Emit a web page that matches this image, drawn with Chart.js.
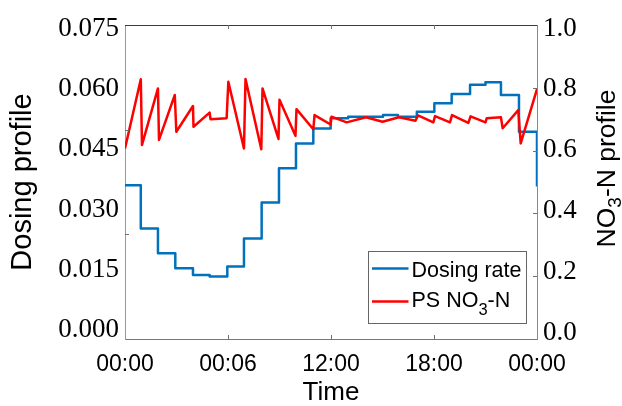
<!DOCTYPE html>
<html>
<head>
<meta charset="utf-8">
<script src="https://cdn.jsdelivr.net/npm/chart.js@4.4.1/dist/chart.umd.min.js"></script>
<style>
  html, body { margin: 0; padding: 0; background: #fff; }
  #wrap { width: 622px; height: 406px; position: relative; }
</style>
</head>
<body>
<div id="wrap"><canvas id="chart"></canvas></div>
<script>
// time axis (hours) and its labels, as printed on the figure
const timeTickHours = [0, 6, 12, 18, 24]
const timeTickLabels = ['00:00', '00:06', '12:00', '18:00', '00:00']
const timeTickMarks = [6, 12, 18]

const doseTickValues = [0, 0.015, 0.03, 0.045, 0.06, 0.075]
const doseTickLabels = ['0.000', '0.015', '0.030', '0.045', '0.060', '0.075']
const doseTickMarks = [0.025, 0.05]

const no3TickValues = [0, 0.2, 0.4, 0.6, 0.8, 1.0]
const no3TickLabels = ['0.0', '0.2', '0.4', '0.6', '0.8', '1.0']
const no3TickMarks = [0.2, 0.4, 0.6, 0.8]

// dosing rate, one level per hourly step (value holds until the next step)
const dosingHours = [0, 0.92, 1.92, 2.93, 3.96, 4.93, 5.96, 6.93, 7.96, 8.97, 9.96, 10.97,
  11.98, 13.0, 14.0, 15.03, 15.9, 17.0, 18.02, 19.03, 20.1, 21.0, 21.9, 22.95, 24]
const dosingRate = [0.0367, 0.0264, 0.0205, 0.0169, 0.0153, 0.0149, 0.0173, 0.0240, 0.0326, 0.0408, 0.0467, 0.0503,
  0.0527, 0.0531, 0.0531, 0.0535, 0.0531, 0.0543, 0.0563, 0.0585, 0.0607, 0.0613, 0.0583, 0.0495, 0.0364]

// PS NO3-N profile
const no3Hours = [0, 0.92, 0.99, 1.92, 1.98, 2.90, 2.99, 3.96, 3.99, 4.93, 4.98, 5.92,
  6.02, 6.93, 7.02, 7.94, 8.01, 8.94, 9.00, 9.93, 9.99, 10.97, 11.04, 11.98,
  12.03, 12.91, 14.04, 15.00, 15.96, 16.92, 17.07, 17.96, 18.06, 18.93, 19.05, 20.00,
  20.13, 21.00, 21.07, 21.90, 22.00, 22.91, 23.05, 24.00]
const no3Values = [0.607, 0.827, 0.618, 0.798, 0.634, 0.777, 0.660, 0.742, 0.676, 0.721, 0.700, 0.703,
  0.819, 0.607, 0.828, 0.604, 0.798, 0.637, 0.762, 0.647, 0.732, 0.668, 0.713, 0.683,
  0.708, 0.690, 0.706, 0.692, 0.706, 0.695, 0.712, 0.690, 0.710, 0.690, 0.713, 0.688,
  0.709, 0.690, 0.703, 0.706, 0.671, 0.729, 0.623, 0.796]

const BLUE = '#0072BD'
const RED = '#FF0000'
const SERIF = '"Liberation Serif", "Times New Roman", serif'
const SANS = '"Liberation Sans", Arial, sans-serif'

function fixedTicks(values){
    return (scale) => { scale.ticks = values.map(v => ({value: v})) }
}

// top frame line, inward tick marks, right title and the legend box
const decorPlugin = {
    id: 'decor',
    afterDraw(chart){
        const ctx = chart.ctx
        const area = chart.chartArea
        const xs = chart.scales.x, yd = chart.scales.yD, yn = chart.scales.yN
        ctx.save()
        ctx.lineWidth = 1
        ctx.strokeStyle = '#3a3a3a'
        ctx.beginPath()
        ctx.moveTo(area.left, area.top + 0.5)
        ctx.lineTo(area.right, area.top + 0.5)
        ctx.stroke()

        ctx.strokeStyle = '#707070'
        ctx.beginPath()
        for(const h of timeTickMarks){
            const px = Math.round(xs.getPixelForValue(h)) + 0.5
            ctx.moveTo(px, area.bottom); ctx.lineTo(px, area.bottom - 4)
            ctx.moveTo(px, area.top); ctx.lineTo(px, area.top + 4)
        }
        for(const v of doseTickMarks){
            const py = Math.round(yd.getPixelForValue(v)) + 0.5
            ctx.moveTo(area.left, py); ctx.lineTo(area.left + 4, py)
        }
        for(const v of no3TickMarks){
            const py = Math.round(yn.getPixelForValue(v)) + 0.5
            ctx.moveTo(area.right, py); ctx.lineTo(area.right - 4, py)
        }
        ctx.stroke()

        // right axis title, reading bottom to top, with subscript
        const big = `26.5px ${SANS}`, small = `19px ${SANS}`
        const parts = [['NO', big, 0], ['3', small, 6], ['-N profile', big, 0]]
        ctx.fillStyle = '#000'
        ctx.textBaseline = 'alphabetic'
        ctx.textAlign = 'left'
        let total = 0
        for(const p of parts){ ctx.font = p[1]; total += ctx.measureText(p[0]).width }
        ctx.translate(608.5, 168.5)
        ctx.rotate(-Math.PI / 2)
        let tx = -total / 2
        for(const p of parts){
            ctx.font = p[1]
            ctx.fillText(p[0], tx, 6.8 + p[2])
            tx += ctx.measureText(p[0]).width
        }
        ctx.setTransform(1, 0, 0, 1, 0, 0)

        // legend
        ctx.fillStyle = '#fff'
        ctx.fillRect(368.5, 251.5, 158, 72)
        ctx.strokeStyle = '#666'
        ctx.strokeRect(368.5, 251.5, 158, 72)
        ctx.lineWidth = 2.5
        ctx.strokeStyle = BLUE
        ctx.beginPath(); ctx.moveTo(372, 268.5); ctx.lineTo(408.5, 268.5); ctx.stroke()
        ctx.strokeStyle = RED
        ctx.beginPath(); ctx.moveTo(372, 301.5); ctx.lineTo(408.5, 301.5); ctx.stroke()
        ctx.fillStyle = '#000'
        ctx.font = `21.5px ${SANS}`
        ctx.fillText('Dosing rate', 411.5, 276.5)
        const legendParts = [['PS NO', `21.5px ${SANS}`, 0], ['3', `16.5px ${SANS}`, 8], ['-N', `21.5px ${SANS}`, 0]]
        let lx = 411.5
        for(const p of legendParts){
            ctx.font = p[1]
            ctx.fillText(p[0], lx, 306.5 + p[2])
            lx += ctx.measureText(p[0]).width
        }
        ctx.restore()
    }
}

const canvas = document.querySelector('#chart')
const chart = new Chart(canvas, {
    type: 'line',
    data: {
        datasets: [
            {
                label: 'PS NO3-N',
                data: no3Hours.map((h, i) => ({x: h, y: no3Values[i]})),
                yAxisID: 'yN',
                borderColor: RED,
                borderWidth: 2.5,
                borderJoinStyle: 'round',
                pointRadius: 0,
                tension: 0,
                order: 0
            },
            {
                label: 'Dosing rate',
                data: dosingHours.map((h, i) => ({x: h, y: dosingRate[i]})),
                yAxisID: 'yD',
                borderColor: BLUE,
                borderWidth: 2.5,
                borderJoinStyle: 'round',
                pointRadius: 0,
                stepped: 'before',
                order: 1
            }
        ]
    },
    options: {
        responsive: true,
        maintainAspectRatio: false,
        animation: false,
        layout: { padding: { top: 25, left: 0, right: 0, bottom: 0 } },
        plugins: { legend: { display: false }, tooltip: { enabled: false } },
        scales: {
            x: {
                type: 'linear', position: 'bottom', min: 0, max: 24,
                afterBuildTicks: fixedTicks(timeTickHours),
                afterFit: (s) => { s.height = 67 },
                grid: { display: false, drawTicks: false },
                border: { display: true, color: '#777', width: 1 },
                ticks: {
                    autoSkip: false, maxRotation: 0, padding: 12, color: '#000',
                    font: { family: SANS, size: 23 },
                    callback: (v, i) => timeTickLabels[i]
                },
                title: { display: true, text: 'Time', color: '#000', padding: { top: 0, bottom: 0 },
                    font: { family: SANS, size: 26, lineHeight: 1 } }
            },
            // label axes (numbers as printed), data axes below carry the series
            yL: {
                type: 'linear', position: 'left', min: -0.002243, max: 0.075997, bounds: 'data',
                afterBuildTicks: fixedTicks(doseTickValues),
                afterFit: (s) => { s.width = 125 },
                grid: { display: false, drawTicks: false },
                border: { display: true, color: '#999', width: 1 },
                ticks: {
                    autoSkip: false, padding: 6, color: '#000',
                    font: { family: SERIF, size: 27 },
                    callback: (v, i) => doseTickLabels[i]
                },
                title: { display: true, text: 'Dosing profile', color: '#000', padding: { top: 6 },
                    font: { family: SANS, size: 29 } }
            },
            yR: {
                type: 'linear', position: 'right', min: -0.0197, max: 1.0115, bounds: 'data',
                afterBuildTicks: fixedTicks(no3TickValues),
                afterFit: (s) => { s.width = 85 },
                grid: { display: false, drawTicks: false },
                border: { display: true, color: '#888', width: 1 },
                ticks: {
                    autoSkip: false, padding: 6, color: '#000',
                    font: { family: SERIF, size: 27 },
                    callback: (v, i) => no3TickLabels[i]
                }
            },
            yD: { type: 'linear', position: 'left', min: 0, max: 0.075, display: false },
            yN: { type: 'linear', position: 'right', min: 0, max: 1, display: false }
        }
    },
    plugins: [decorPlugin]
})
</script>
</body>
</html>
